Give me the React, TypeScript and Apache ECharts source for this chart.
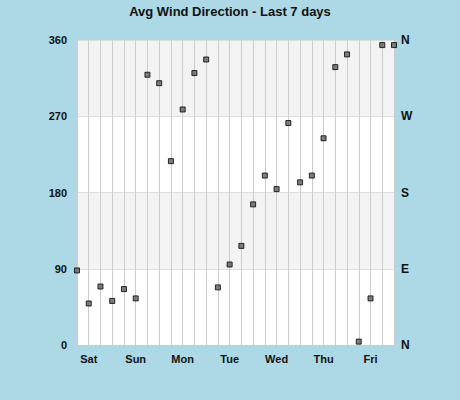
import { useEffect, useRef } from 'react'
import * as echarts from 'echarts'

// 4 readings per day (6-hourly), oldest first
const DAYS = ['Sat', 'Sun', 'Mon', 'Tue', 'Wed', 'Thu', 'Fri']
const SLOTS = 28
const DIRECTION = [
  88, 49, 69, 52, 66, 55, 319, 309, 217, 278, 321, 337, 68, 95,
  117, 166, 200, 184, 262, 192, 200, 244, 328, 343, 4, 55, 354, 354,
]
const COMPASS = ['N', 'E', 'S', 'W', 'N']
const Y_MIN = 0
const Y_MAX = 360
const Y_STEP = 90

const BG = '#add8e6'
const GRID_LINE = '#cccccc'
const LABEL = '#111111'

// day label sits on the 2nd slot of each day
const categories = Array.from({ length: SLOTS }, (_, i) => (i % 4 === 1 ? DAYS[(i - 1) / 4] : ''))

export default function App() {
  const ref = useRef<HTMLDivElement>(null)

  useEffect(() => {
    const el = ref.current
    if (!el) return
    const chart = echarts.init(el, undefined, { renderer: 'svg' })
    const valueAxisBase = {
      type: 'value' as const,
      min: Y_MIN,
      max: Y_MAX,
      interval: Y_STEP,
      axisLine: { show: false },
      axisTick: { show: false },
    }
    chart.setOption({
      animation: false,
      backgroundColor: BG,
      textStyle: { fontFamily: 'Arial, "Liberation Sans", sans-serif' },
      title: {
        text: 'Avg Wind Direction - Last 7 days',
        left: 'center',
        top: 0,
        textStyle: { fontSize: 13, fontWeight: 'bold', color: LABEL },
      },
      grid: {
        left: 77,
        right: 66,
        top: 40,
        bottom: 55,
        show: true,
        backgroundColor: '#ffffff',
        borderColor: GRID_LINE,
        borderWidth: 1,
      },
      xAxis: {
        type: 'category',
        data: categories,
        boundaryGap: false,
        axisLine: { lineStyle: { color: GRID_LINE } },
        axisTick: { show: false },
        axisLabel: {
          interval: 0,
          margin: 8,
          color: LABEL,
          fontSize: 11,
          fontWeight: 'bold',
        },
        splitLine: { show: true, interval: 0, lineStyle: { color: GRID_LINE, width: 1 } },
      },
      yAxis: [
        {
          ...valueAxisBase,
          position: 'left',
          axisLabel: { color: LABEL, fontSize: 11, fontWeight: 'bold', margin: 10 },
          splitLine: { show: true, lineStyle: { color: '#dddddd' } },
          splitArea: { show: true, areaStyle: { color: ['#ffffff', '#f3f3f3'] } },
        },
        {
          ...valueAxisBase,
          position: 'right',
          axisLabel: {
            color: LABEL,
            fontSize: 12,
            fontWeight: 'bold',
            margin: 7,
            formatter: (v: number) => COMPASS[Math.round(v / Y_STEP)] ?? '',
          },
          splitLine: { show: false },
        },
      ],
      series: [
        {
          type: 'scatter',
          data: DIRECTION,
          symbol: 'rect',
          symbolSize: 5,
          clip: true,
          itemStyle: { color: '#606060', borderColor: '#000000', borderWidth: 1 },
        },
      ],
    })
    return () => chart.dispose()
  }, [])

  return <div ref={ref} style={{ position: 'fixed', left: 0, top: 0, width: 460, height: 400 }} />
}
